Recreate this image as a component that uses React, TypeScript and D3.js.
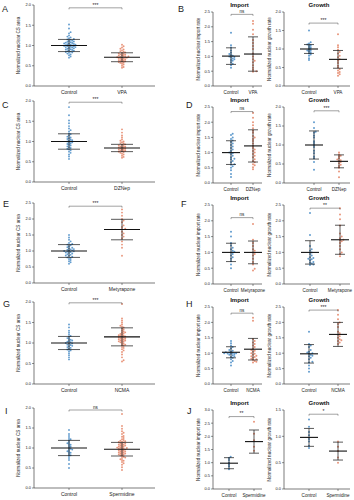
import React from 'react';
import * as d3 from 'd3';

// values (normalized to control = 1.0)
const aControl = [1.52, 1.42, 1.33, 1.30, 1.25, 1.22, 1.20, 1.18, 1.16, 1.15, 1.14, 1.12, 1.11, 1.10, 1.09, 1.08, 1.07, 1.06, 1.05, 1.05, 1.04, 1.03, 1.02, 1.02, 1.01, 1.00, 1.00, 0.99, 0.98, 0.98, 0.97, 0.96, 0.96, 0.95, 0.94, 0.93, 0.92, 0.91, 0.90, 0.89, 0.88, 0.87, 0.86, 0.85, 0.84, 0.83, 0.82, 0.80, 0.78, 0.76, 0.73, 0.70];
const aVpa = [1.02, 0.98, 0.95, 0.92, 0.90, 0.88, 0.86, 0.85, 0.83, 0.82, 0.80, 0.79, 0.78, 0.77, 0.76, 0.75, 0.74, 0.73, 0.72, 0.72, 0.71, 0.70, 0.70, 0.69, 0.68, 0.67, 0.66, 0.65, 0.64, 0.63, 0.62, 0.61, 0.60, 0.59, 0.58, 0.57, 0.55, 0.53, 0.50, 0.47, 0.45];
const bImpControl = [1.8, 1.38, 1.3, 1.2, 1.12, 1.08, 1.05, 1.02, 1.0, 0.98, 0.96, 0.93, 0.9, 0.88, 0.85, 0.8, 0.75, 0.7, 0.62];
const bImpVpa = [2.2, 2.1, 1.9, 1.75, 1.55, 1.45, 1.35, 1.25, 1.1, 1.0, 0.9, 0.85, 0.8, 0.7, 0.62, 0.55, 0.5, 0.48];
const bGroControl = [1.5, 1.18, 1.15, 1.12, 1.1, 1.08, 1.05, 1.03, 1.0, 0.98, 0.96, 0.95, 0.93, 0.9, 0.88, 0.85, 0.82, 0.75, 0.7];
const bGroVpa = [1.4, 1.1, 1.05, 0.98, 0.92, 0.88, 0.82, 0.78, 0.72, 0.68, 0.62, 0.55, 0.5, 0.45, 0.42, 0.38, 0.35, 0.32, 0.28];
const cControl = [1.85, 1.65, 1.52, 1.45, 1.38, 1.32, 1.28, 1.25, 1.2, 1.18, 1.15, 1.12, 1.1, 1.08, 1.06, 1.05, 1.03, 1.02, 1.0, 1.0, 0.98, 0.97, 0.95, 0.94, 0.92, 0.9, 0.88, 0.86, 0.84, 0.82, 0.8, 0.78, 0.75, 0.72, 0.68, 0.63, 0.57];
const cDznep = [1.3, 1.22, 1.15, 1.1, 1.05, 1.02, 1.0, 0.98, 0.96, 0.95, 0.93, 0.92, 0.9, 0.89, 0.88, 0.87, 0.86, 0.85, 0.84, 0.83, 0.82, 0.81, 0.8, 0.79, 0.78, 0.77, 0.76, 0.75, 0.74, 0.72, 0.7, 0.68, 0.65, 0.62, 0.6];
const dImpControl = [1.62, 1.58, 1.5, 1.45, 1.4, 1.35, 1.3, 1.25, 1.2, 1.15, 1.1, 1.05, 1.0, 0.98, 0.95, 0.9, 0.85, 0.8, 0.78, 0.72, 0.68, 0.62, 0.6, 0.55, 0.5, 0.42, 0.3, 0.2];
const dImpDznep = [2.3, 2.15, 2.0, 1.9, 1.8, 1.72, 1.65, 1.55, 1.5, 1.45, 1.38, 1.3, 1.22, 1.15, 1.1, 1.05, 1.0, 0.95, 0.9, 0.85, 0.78, 0.72, 0.68, 0.62, 0.58, 0.52, 0.45];
const dGroControl = [1.6, 1.45, 1.35, 1.32, 1.25, 1.2, 1.1, 1.05, 1.0, 0.95, 0.85, 0.78, 0.7, 0.65, 0.55, 0.35];
const dGroDznep = [0.8, 0.75, 0.72, 0.7, 0.65, 0.62, 0.6, 0.58, 0.55, 0.52, 0.48, 0.45, 0.4, 0.3, 0.15];
const eControl = [1.5, 1.42, 1.35, 1.3, 1.25, 1.22, 1.2, 1.18, 1.15, 1.12, 1.1, 1.08, 1.06, 1.05, 1.04, 1.02, 1.01, 1.0, 0.99, 0.98, 0.97, 0.95, 0.94, 0.92, 0.9, 0.88, 0.86, 0.85, 0.82, 0.8, 0.78, 0.75, 0.72, 0.68, 0.65, 0.6];
const eMety = [2.3, 2.2, 2.1, 2.0, 1.95, 1.9, 1.8, 1.75, 1.7, 1.68, 1.6, 1.55, 1.5, 1.45, 1.4, 1.3, 1.2, 1.1, 0.85];
const fImpControl = [1.65, 1.5, 1.3, 1.22, 1.15, 1.1, 1.05, 1.02, 1.0, 0.95, 0.9, 0.85, 0.8, 0.72, 0.62, 0.5];
const fImpMety = [1.9, 1.4, 1.3, 1.2, 1.1, 1.05, 1.0, 0.95, 0.9, 0.8, 0.7, 0.62, 0.48, 0.43];
const fGroControl = [2.25, 1.55, 1.2, 1.1, 1.05, 1.0, 0.95, 0.9, 0.85, 0.82, 0.8, 0.78, 0.75, 0.7, 0.68, 0.65, 0.62, 0.6];
const fGroMety = [2.4, 2.2, 2.05, 1.85, 1.6, 1.5, 1.45, 1.4, 1.38, 1.35, 1.3, 1.2, 1.1, 1.0, 0.95, 0.88];
const gControl = [1.45, 1.38, 1.3, 1.25, 1.2, 1.17, 1.15, 1.12, 1.1, 1.08, 1.06, 1.05, 1.03, 1.02, 1.0, 0.99, 0.98, 0.96, 0.95, 0.93, 0.92, 0.9, 0.88, 0.86, 0.84, 0.82, 0.8, 0.75, 0.7, 0.65, 0.6];
const gNcma = [1.95, 1.6, 1.55, 1.5, 1.45, 1.42, 1.4, 1.38, 1.35, 1.33, 1.3, 1.28, 1.26, 1.25, 1.23, 1.22, 1.2, 1.19, 1.18, 1.17, 1.16, 1.15, 1.14, 1.13, 1.12, 1.11, 1.1, 1.09, 1.08, 1.07, 1.06, 1.05, 1.04, 1.03, 1.02, 1.0, 0.98, 0.96, 0.95, 0.93, 0.9, 0.88, 0.85, 0.82, 0.78, 0.72, 0.65, 0.58, 0.55];
const hImpControl = [1.4, 1.32, 1.25, 1.2, 1.15, 1.1, 1.08, 1.05, 1.03, 1.02, 1.01, 1.0, 1.0, 0.99, 0.98, 0.97, 0.95, 0.93, 0.9, 0.88, 0.85, 0.8, 0.75, 0.7, 0.6];
const hImpNcma = [2.15, 2.05, 1.45, 1.4, 1.35, 1.3, 1.25, 1.2, 1.15, 1.1, 1.08, 1.05, 1.0, 0.98, 0.95, 0.92, 0.9, 0.88, 0.85, 0.82, 0.8, 0.78, 0.75, 0.72, 0.7];
const hGroControl = [1.7, 1.3, 1.25, 1.2, 1.1, 1.05, 1.02, 1.0, 0.98, 0.95, 0.92, 0.9, 0.85, 0.8, 0.72, 0.7, 0.6, 0.5, 0.4];
const hGroNcma = [2.4, 2.25, 2.1, 2.0, 1.95, 1.85, 1.7, 1.65, 1.6, 1.55, 1.5, 1.45, 1.42, 1.4, 1.35, 1.3];
const iControl = [1.45, 1.35, 1.3, 1.25, 1.22, 1.2, 1.15, 1.12, 1.1, 1.08, 1.05, 1.03, 1.0, 0.98, 0.96, 0.95, 0.92, 0.9, 0.88, 0.85, 0.82, 0.8, 0.75, 0.7, 0.6, 0.5];
const iSperm = [1.85, 1.55, 1.48, 1.42, 1.38, 1.35, 1.3, 1.28, 1.25, 1.22, 1.2, 1.18, 1.17, 1.16, 1.15, 1.14, 1.12, 1.11, 1.1, 1.09, 1.08, 1.07, 1.06, 1.05, 1.04, 1.03, 1.02, 1.01, 1.0, 1.0, 0.99, 0.98, 0.97, 0.96, 0.95, 0.94, 0.93, 0.92, 0.91, 0.9, 0.89, 0.88, 0.87, 0.86, 0.85, 0.84, 0.83, 0.82, 0.8, 0.78, 0.76, 0.75, 0.72, 0.7, 0.68, 0.65, 0.62, 0.58, 0.52, 0.45];
const jImpControl = [1.22, 1.18, 1.1, 1.0, 0.92, 0.85, 0.75];
const jImpSperm = [2.55, 2.1, 1.85, 1.6, 1.45];
const jGroControl = [1.32, 1.18, 1.08, 1.02, 0.95, 0.9, 0.82, 0.78];
const jGroSperm = [0.9, 0.8, 0.72, 0.6, 0.5];

// mean and SD per group
const aMean = [1.0, 0.71]; const aSd = [0.15, 0.11];
const bImpMean = [1.01, 1.08]; const bImpSd = [0.28, 0.58];
const bGroMean = [1.0, 0.72]; const bGroSd = [0.12, 0.24];
const cMean = [1.0, 0.84]; const cSd = [0.19, 0.09];
const dImpMean = [1.0, 1.22]; const dImpSd = [0.39, 0.53];
const dGroMean = [1.0, 0.57]; const dGroSd = [0.37, 0.17];
const eMean = [1.0, 1.67]; const eSd = [0.2, 0.32];
const fImpMean = [1.0, 1.0]; const fImpSd = [0.29, 0.36];
const fGroMean = [1.0, 1.4]; const fGroSd = [0.37, 0.46];
const gMean = [1.0, 1.15]; const gSd = [0.16, 0.22];
const hImpMean = [1.03, 1.13]; const hImpSd = [0.18, 0.35];
const hGroMean = [0.98, 1.61]; const hGroSd = [0.3, 0.39];
const iMean = [1.0, 0.97]; const iSd = [0.19, 0.17];
const jImpMean = [0.98, 1.8]; const jImpSd = [0.21, 0.44];
const jGroMean = [0.98, 0.72]; const jGroSd = [0.17, 0.17];

const colors = ['#2e7bbd', '#e0714f'];
const font = 'Liberation Sans, Arial, sans-serif';
const csLabel = 'Normalized nuclear CS area';
const impLabel = 'Normalized nuclear import rate';
const groLabel = 'Normalized nuclear growth rate';

const plots = [
    { letter: 'A', lx: 2, ly: 12, x0: 34, x1: 155, top: 5, bottom: 86, yMax: 2, cx: [69, 122], cats: ['Control', 'VPA'], data: [aControl, aVpa], mean: aMean, sd: aSd, br: 1.93, sig: '***', ylabel: csLabel, wide: true },
    { letter: 'B', lx: 178, ly: 12, x0: 213, x1: 262, top: 12, bottom: 86, yMax: 2.5, cx: [231, 253], cats: ['Control', 'VPA'], data: [bImpControl, bImpVpa], mean: bImpMean, sd: bImpSd, br: 2.42, sig: 'ns', ylabel: impLabel, title: 'Import' },
    { x0: 284, x1: 350, top: 12, bottom: 86, yMax: 2, cx: [309, 338], cats: ['Control', 'VPA'], data: [bGroControl, bGroVpa], mean: bGroMean, sd: bGroSd, br: 1.7, sig: '***', ylabel: groLabel, title: 'Growth' },
    { letter: 'C', lx: 2, ly: 108, x0: 34, x1: 155, top: 101, bottom: 182, yMax: 2, cx: [69, 122], cats: ['Control', 'DZNep'], data: [cControl, cDznep], mean: cMean, sd: cSd, br: 1.97, sig: '***', ylabel: csLabel, wide: true },
    { letter: 'D', lx: 186, ly: 108, x0: 213, x1: 262, top: 107, bottom: 183, yMax: 2.5, cx: [231, 253], cats: ['Control', 'DZNep'], data: [dImpControl, dImpDznep], mean: dImpMean, sd: dImpSd, br: 2.35, sig: 'ns', ylabel: impLabel, title: 'Import' },
    { x0: 284, x1: 350, top: 107, bottom: 183, yMax: 2, cx: [314, 339], cats: ['Control', 'DZNep'], data: [dGroControl, dGroDznep], mean: dGroMean, sd: dGroSd, br: 1.9, sig: '***', ylabel: groLabel, title: 'Growth' },
    { letter: 'E', lx: 3, ly: 207, x0: 34, x1: 155, top: 203, bottom: 283, yMax: 2.5, cx: [69, 122], cats: ['Control', 'Metyrapone'], data: [eControl, eMety], mean: eMean, sd: eSd, br: 2.4, sig: '***', ylabel: csLabel, wide: true },
    { letter: 'F', lx: 181, ly: 207, x0: 213, x1: 262, top: 205, bottom: 284, yMax: 2.5, cx: [231, 253], cats: ['Control', 'Metyrapone'], data: [fImpControl, fImpMety], mean: fImpMean, sd: fImpSd, br: 2.1, sig: 'ns', ylabel: impLabel, title: 'Import' },
    { x0: 284, x1: 350, top: 205, bottom: 284, yMax: 2.5, cx: [310, 340], cats: ['Control', 'Metyrapone'], data: [fGroControl, fGroMety], mean: fGroMean, sd: fGroSd, br: 2.4, sig: '**', ylabel: groLabel, title: 'Growth' },
    { letter: 'G', lx: 3, ly: 307, x0: 34, x1: 155, top: 302, bottom: 384, yMax: 2, cx: [69, 122], cats: ['Control', 'NCMA'], data: [gControl, gNcma], mean: gMean, sd: gSd, br: 1.98, sig: '***', ylabel: csLabel, wide: true },
    { letter: 'H', lx: 186, ly: 307, x0: 213, x1: 262, top: 307, bottom: 384, yMax: 2.5, cx: [231, 253], cats: ['Control', 'NCMA'], data: [hImpControl, hImpNcma], mean: hImpMean, sd: hImpSd, br: 2.3, sig: 'ns', ylabel: impLabel, title: 'Import' },
    { x0: 284, x1: 350, top: 307, bottom: 384, yMax: 2.5, cx: [309, 338], cats: ['Control', 'NCMA'], data: [hGroControl, hGroNcma], mean: hGroMean, sd: hGroSd, br: 2.4, sig: '***', ylabel: groLabel, title: 'Growth' },
    { letter: 'I', lx: 5, ly: 414, x0: 34, x1: 155, top: 408, bottom: 488, yMax: 2, cx: [69, 122], cats: ['Control', 'Spermidine'], data: [iControl, iSperm], mean: iMean, sd: iSd, br: 1.95, sig: 'ns', ylabel: csLabel, wide: true },
    { letter: 'J', lx: 187, ly: 414, x0: 213, x1: 262, top: 410, bottom: 489, yMax: 3, cx: [229, 254], cats: ['Control', 'Spermidine'], data: [jImpControl, jImpSperm], mean: jImpMean, sd: jImpSd, br: 2.75, sig: '**', ylabel: impLabel, title: 'Import' },
    { x0: 284, x1: 350, top: 410, bottom: 489, yMax: 1.5, cx: [309, 338], cats: ['Control', 'Spermidine'], data: [jGroControl, jGroSperm], mean: jGroMean, sd: jGroSd, br: 1.42, sig: '*', ylabel: groLabel, title: 'Growth' },
];

// simple deterministic beeswarm: nudge each dot sideways until it clears the others
const swarm = (values, y, cx, r) => {
    const placed = [];
    [...values].sort((a, b) => a - b).forEach((v) => {
        const py = y(v);
        const step = r * 1.7;
        for (let k = 0; k < 60; k++) {
            const off = k === 0 ? 0 : Math.ceil(k / 2) * step * (k % 2 ? 1 : -1);
            const px = cx + off;
            const hit = placed.some((p) => (p.x - px) ** 2 + (p.y - py) ** 2 < (2 * r * 0.92) ** 2);
            if (!hit) { placed.push({ x: px, y: py }); break; }
        }
    });
    return placed;
};

const Plot = ({ p }) => {
    const y = d3.scaleLinear().domain([0, p.yMax]).range([p.bottom, p.top]);
    const x = d3.scalePoint().domain(p.cats).range(p.cx);
    const ticks = d3.range(0, p.yMax + 0.001, 0.5);
    const r = p.wide ? 0.95 : 1.0;
    const barHalf = p.wide ? 18 : 9;
    const capHalf = p.wide ? 11 : 5;
    const midY = (p.top + p.bottom) / 2;
    const x1 = x(p.cats[0]);
    const x2 = x(p.cats[1]);
    const by = y(p.br);
    return (
        <g fontFamily={font}>
            {p.letter && <text x={p.lx} y={p.ly} fontSize={9} fill="#222">{p.letter}</text>}
            {p.title && (
                <text x={(p.x0 + p.x1) / 2 + 2} y={p.top - 5} fontSize={6} fontWeight="bold" textAnchor="middle" fill="#111">{p.title}</text>
            )}
            <line x1={p.x0} x2={p.x0} y1={p.top} y2={p.bottom} stroke="#222" strokeWidth={0.6} />
            <line x1={p.x0} x2={p.x1} y1={p.bottom} y2={p.bottom} stroke="#222" strokeWidth={0.6} />
            {ticks.map((t) => (
                <g key={t}>
                    <line x1={p.x0 - 2} x2={p.x0} y1={y(t)} y2={y(t)} stroke="#222" strokeWidth={0.5} />
                    <text x={p.x0 - 3} y={y(t) + 1.4} fontSize={4} textAnchor="end" fill="#222">{d3.format('.1f')(t)}</text>
                </g>
            ))}
            <text transform={`translate(${p.x0 - (p.wide ? 14 : 13)},${midY}) rotate(-90)`} fontSize={4.6} textAnchor="middle" fill="#222">{p.ylabel}</text>
            {p.cats.map((c) => (
                <g key={c}>
                    <line x1={x(c)} x2={x(c)} y1={p.bottom} y2={p.bottom + 2} stroke="#222" strokeWidth={0.5} />
                    <text x={x(c)} y={p.bottom + 8} fontSize={p.wide ? 5 : 4.6} textAnchor="middle" fill="#222">{c}</text>
                </g>
            ))}
            {p.data.map((vals, i) => swarm(vals, y, x(p.cats[i]), r).map((d, j) => (
                <circle key={`${i}-${j}`} cx={d.x} cy={d.y} r={r} fill={colors[i]} fillOpacity={0.75} />
            )))}
            {p.cats.map((c, i) => {
                const cx = x(c);
                const hi = y(p.mean[i] + p.sd[i]);
                const lo = y(Math.max(0, p.mean[i] - p.sd[i]));
                return (
                    <g key={`m${c}`} stroke="#111">
                        <line x1={cx} x2={cx} y1={hi} y2={lo} strokeWidth={0.7} />
                        <line x1={cx - capHalf} x2={cx + capHalf} y1={hi} y2={hi} strokeWidth={0.7} />
                        <line x1={cx - capHalf} x2={cx + capHalf} y1={lo} y2={lo} strokeWidth={0.7} />
                        <line x1={cx - barHalf} x2={cx + barHalf} y1={y(p.mean[i])} y2={y(p.mean[i])} strokeWidth={1.1} />
                    </g>
                );
            })}
            <path d={`M${x1},${by + 1.5}V${by}H${x2}V${by + 1.5}`} fill="none" stroke="#444" strokeWidth={0.5} />
            <text x={(x1 + x2) / 2} y={by - 1.2} fontSize={p.sig === 'ns' ? 4.6 : 5} textAnchor="middle" fill="#222">{p.sig}</text>
        </g>
    );
};

const App = () => (
    <svg width={354} height={500} style={{ position: 'absolute', left: 0, top: 0, background: '#fff' }}>
        <rect width={354} height={500} fill="#fff" />
        {plots.map((p, i) => <Plot key={i} p={p} />)}
    </svg>
);

export default App;
